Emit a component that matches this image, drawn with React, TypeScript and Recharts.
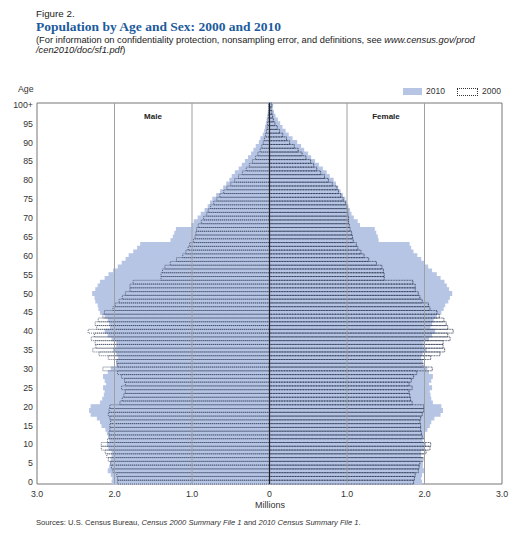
import React from "react";
import { Bar, BarChart, ReferenceArea, ReferenceLine, XAxis, YAxis } from "recharts";

// ages 0..100 (100 = "100+"), millions
const ages = Array.from({ length: 101 }, (_, i) => i);

const male2010 = [
  2.03, 2.02, 2.04, 2.08, 2.06, 2.05, 2.04, 2.03, 2.03, 2.07,
  2.09, 2.06, 2.07, 2.09, 2.11, 2.16, 2.18, 2.22, 2.30, 2.32,
  2.30, 2.18, 2.15, 2.13, 2.12, 2.14, 2.10, 2.12, 2.14, 2.08,
  2.04, 1.97, 1.97, 1.95, 1.97, 2.01, 1.97, 1.97, 2.03, 2.08,
  2.12, 2.05, 2.06, 2.08, 2.12, 2.18, 2.20, 2.21, 2.24, 2.25,
  2.28, 2.24, 2.21, 2.18, 2.12, 2.07, 2.01, 1.95, 1.90, 1.85,
  1.81, 1.75, 1.70, 1.66, 1.27, 1.24, 1.22, 1.20, 1.00, 0.97,
  0.92, 0.88, 0.83, 0.79, 0.76, 0.73, 0.68, 0.63, 0.59, 0.55,
  0.51, 0.48, 0.44, 0.39, 0.35, 0.31, 0.27, 0.23, 0.20, 0.17,
  0.13, 0.11, 0.08, 0.06, 0.05, 0.04, 0.03, 0.02, 0.015, 0.01,
  0.01,
];

const female2010 = [
  1.96, 1.95, 1.96, 1.99, 1.97, 1.97, 1.96, 1.95, 1.95, 1.99,
  2.01, 1.97, 1.99, 2.00, 2.03, 2.06, 2.08, 2.12, 2.20, 2.23,
  2.21, 2.10, 2.08, 2.07, 2.06, 2.09, 2.05, 2.08, 2.10, 2.05,
  2.03, 1.96, 1.97, 1.95, 1.97, 2.02, 1.98, 1.98, 2.05, 2.09,
  2.13, 2.07, 2.09, 2.11, 2.15, 2.21, 2.24, 2.26, 2.30, 2.32,
  2.35, 2.31, 2.28, 2.25, 2.20, 2.15, 2.09, 2.04, 1.99, 1.95,
  1.90, 1.85, 1.82, 1.80, 1.40, 1.39, 1.37, 1.35, 1.16, 1.13,
  1.08, 1.05, 1.03, 1.01, 0.99, 0.97, 0.94, 0.91, 0.88, 0.85,
  0.82, 0.77, 0.73, 0.68, 0.63, 0.58, 0.53, 0.49, 0.44, 0.40,
  0.35, 0.29, 0.24, 0.20, 0.16, 0.13, 0.10, 0.07, 0.05, 0.035,
  0.04,
];

const male2000 = [
  1.96, 1.96, 1.97, 2.02, 2.04, 2.05, 2.08, 2.10, 2.12, 2.17,
  2.17, 2.09, 2.07, 2.07, 2.06, 2.06, 2.05, 2.06, 2.08, 2.07,
  2.06, 1.93, 1.90, 1.88, 1.86, 1.91, 1.86, 1.87, 1.91, 1.96,
  2.15, 1.96, 1.97, 2.08, 2.20, 2.28, 2.24, 2.25, 2.30, 2.26,
  2.34, 2.23, 2.25, 2.21, 2.15, 2.13, 2.02, 1.99, 1.94, 1.90,
  1.86, 1.80, 1.80, 1.76, 1.40, 1.40, 1.38, 1.35, 1.28, 1.20,
  1.12, 1.08, 1.05, 1.03, 0.98, 0.96, 0.95, 0.94, 0.92, 0.88,
  0.85, 0.81, 0.79, 0.76, 0.72, 0.68, 0.64, 0.59, 0.55, 0.50,
  0.45, 0.40, 0.35, 0.30, 0.26, 0.22, 0.18, 0.15, 0.12, 0.10,
  0.08, 0.065, 0.05, 0.04, 0.03, 0.025, 0.02, 0.015, 0.01, 0.007,
  0.01,
];

const female2000 = [
  1.86, 1.87, 1.88, 1.92, 1.93, 1.94, 1.98, 2.00, 2.02, 2.07,
  2.08, 2.00, 1.97, 1.96, 1.95, 1.95, 1.94, 1.95, 1.97, 1.99,
  1.99, 1.84, 1.82, 1.81, 1.80, 1.84, 1.80, 1.83, 1.86, 1.90,
  2.10, 1.98, 2.00, 2.08, 2.20, 2.26, 2.24, 2.24, 2.33, 2.30,
  2.37, 2.30, 2.28, 2.25, 2.19, 2.16, 2.07, 2.05, 1.97, 1.94,
  1.92, 1.88, 1.88, 1.85, 1.48, 1.48, 1.47, 1.45, 1.38, 1.28,
  1.22, 1.18, 1.14, 1.12, 1.08, 1.07, 1.06, 1.04, 1.03, 1.02,
  1.02, 1.01, 1.01, 1.00, 0.98, 0.95, 0.92, 0.89, 0.87, 0.81,
  0.76, 0.71, 0.66, 0.61, 0.57, 0.53, 0.47, 0.42, 0.37, 0.32,
  0.26, 0.22, 0.17, 0.13, 0.10, 0.07, 0.05, 0.04, 0.03, 0.02,
  0.03,
];

const xTicks = [-3, -2, -1, 0, 1, 2, 3];

const BLUE = "#b7c5e5";
const DOT = "#27324a";
const FONT = "'Liberation Sans', Arial, sans-serif";

// oldest at the top
const data = ages
  .map((age) => ({
    age,
    m10: -male2010[age],
    f10: female2010[age],
    m00: -male2000[age],
    f00: female2000[age],
  }))
  .reverse();

function AgeTick({ y, payload }: any) {
  const age = Number(payload.value);
  if (age % 5 !== 0) return <g />;
  return (
    <text x={33} y={y} dy={3} textAnchor="end" fontSize={8.8} fill="#333" fontFamily={FONT}>
      {age === 100 ? "100+" : String(age)}
    </text>
  );
}

export default function App() {
  return (
    <div style={{ position: "absolute", left: 0, top: 0, width: 528, height: 536, background: "#fff", fontFamily: FONT, color: "#222" }}>
      <div style={{ position: "absolute", left: 36, top: 8, fontSize: 9.8 }}>Figure 2.</div>
      <div style={{ position: "absolute", left: 36, top: 19, fontSize: 13.5, fontWeight: "bold", color: "#1d5b9c", fontFamily: "'Liberation Serif', serif" }}>
        Population by Age and Sex: 2000 and 2010
      </div>
      <div style={{ position: "absolute", left: 36, top: 35, fontSize: 9.3, lineHeight: "10px", width: 480, whiteSpace: "nowrap" }}>
        (For information on confidentiality protection, nonsampling error, and definitions, see <i>www.census.gov/prod</i>
        <br />
        <i>/cen2010/doc/sf1.pdf</i>)
      </div>

      <div style={{ position: "absolute", left: 18, top: 84, fontSize: 8.8, color: "#333" }}>Age</div>

      {/* legend */}
      <div style={{ position: "absolute", left: 403, top: 88, width: 19, height: 7, background: BLUE }} />
      <div style={{ position: "absolute", left: 426, top: 86, fontSize: 8.5, color: "#333" }}>2010</div>
      <div style={{ position: "absolute", left: 457, top: 88, width: 19, height: 6, border: "1px dotted #333" }} />
      <div style={{ position: "absolute", left: 482, top: 86, fontSize: 8.5, color: "#333" }}>2000</div>

      <BarChart
        width={528}
        height={536}
        data={data}
        layout="vertical"
        margin={{ top: 103, right: 26, bottom: 22, left: 0 }}
        barCategoryGap={0}
        barGap={-3.77}
        barSize={3.77}
        stackOffset="sign"
        style={{ position: "absolute", left: 0, top: 0 }}
      >
        <XAxis
          type="number"
          domain={[-3, 3]}
          ticks={xTicks}
          tickFormatter={(v: number) => (v === 0 ? "0" : Math.abs(v).toFixed(1))}
          tickLine={false}
          axisLine={false}
          height={30}
          tick={{ fontSize: 8.8, fill: "#333", fontFamily: FONT }}
          tickMargin={1}
        />
        <YAxis
          type="category"
          dataKey="age"
          width={37}
          interval={0}
          tickLine={false}
          axisLine={false}
          tick={<AgeTick />}
        />
        <ReferenceLine x={-2} stroke="#a0a0a0" />
        <ReferenceLine x={-1} stroke="#a0a0a0" />
        <ReferenceLine x={1} stroke="#a0a0a0" />
        <ReferenceLine x={2} stroke="#a0a0a0" />
        <Bar dataKey="m10" stackId="y2010" fill={BLUE} stroke={BLUE} strokeWidth={1.2} isAnimationActive={false} />
        <Bar dataKey="f10" stackId="y2010" fill={BLUE} stroke={BLUE} strokeWidth={1.2} isAnimationActive={false} />
        <Bar dataKey="m00" stackId="y2000" fill="none" stroke={DOT} strokeWidth={0.7} strokeDasharray="1 1" isAnimationActive={false} />
        <Bar dataKey="f00" stackId="y2000" fill="none" stroke={DOT} strokeWidth={0.8} strokeDasharray="1 0.6" isAnimationActive={false} />
        <ReferenceLine x={0} stroke="#222" strokeWidth={1.2} />
        <ReferenceArea x1={-3} x2={3} fill="none" stroke="#777" strokeWidth={1} ifOverflow="visible" />
      </BarChart>

      <div style={{ position: "absolute", left: 153, top: 112, transform: "translateX(-50%)", fontSize: 8, fontWeight: "bold", color: "#222" }}>Male</div>
      <div style={{ position: "absolute", left: 386, top: 112, transform: "translateX(-50%)", fontSize: 8, fontWeight: "bold", color: "#222" }}>Female</div>

      <div style={{ position: "absolute", left: 270, top: 500, transform: "translateX(-50%)", fontSize: 9, color: "#333" }}>Millions</div>

      <div style={{ position: "absolute", left: 36, top: 518, fontSize: 7.6, color: "#333" }}>
        Sources: U.S. Census Bureau, <i>Census 2000 Summary File 1</i> and <i>2010 Census Summary File 1</i>.
      </div>
    </div>
  );
}
